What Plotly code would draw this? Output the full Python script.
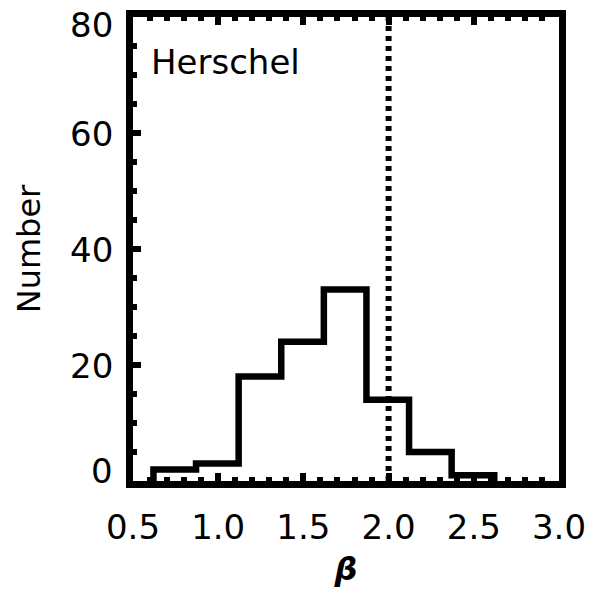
import plotly.graph_objects as go

# Data
bin_edges = [0.62, 0.87, 1.12, 1.37, 1.62, 1.87, 2.12, 2.37, 2.62]
counts = [2, 3, 18, 24, 33, 14, 5, 1]
x_ticks = [0.5, 1.0, 1.5, 2.0, 2.5, 3.0]
y_ticks = [0, 20, 40, 60, 80]
ref_beta = 2.0
label = "Herschel"

FONT = "DejaVu Sans"

# step outline built from the histogram data
xs = [bin_edges[0]] + bin_edges + [bin_edges[-1]]
ys = [0] + counts + [counts[-1], 0]

fig = go.Figure()
fig.add_trace(go.Scatter(
    x=xs, y=ys, mode="lines", line=dict(shape="hv", color="black", width=6.5),
    hoverinfo="skip", showlegend=False))

fig.add_shape(type="line", x0=ref_beta, x1=ref_beta, y0=0, y1=80,
              xref="x", yref="y",
              line=dict(color="black", width=6, dash="5px,5px"))

fig.add_annotation(x=0.595, y=72.2, xref="x", yref="y", text=label,
                   showarrow=False, xanchor="left", yanchor="middle",
                   font=dict(family=FONT, size=34, color="black"))

# y tick labels drawn as annotations (IDL-style: end labels kept inside)
ymin, ymax = min(y_ticks), max(y_ticks)
for v in y_ticks:
    shift = -8 if v == ymax else (10 if v == ymin else -1)
    fig.add_annotation(x=0, y=v, xref="paper", yref="y", text=str(v),
                       showarrow=False, xanchor="right", yanchor="middle",
                       xshift=-18, yshift=shift,
                       font=dict(family=FONT, size=34, color="black"))

axis_common = dict(
    showgrid=False, zeroline=False, showline=True, linecolor="black",
    linewidth=7, ticks="inside", tickcolor="black", tickwidth=6, ticklen=8,
    tickfont=dict(family=FONT, size=34, color="black"),
)

fig.update_xaxes(
    range=[0.5, 3.0], tickvals=x_ticks, ticktext=[f"{v:.1f}" for v in x_ticks],
    mirror="ticks", ticklabelstandoff=10, ticklabeloverflow="allow",
    minor=dict(dtick=0.1, ticklen=4, tickwidth=6, tickcolor="black", ticks="inside"),
    title=dict(text="<b><i>β</i></b>", font=dict(family=FONT, size=32, color="black"), standoff=14),
    **axis_common)
fig.update_yaxes(
    range=[0, 80], tickvals=y_ticks, showticklabels=False,
    mirror=True,
    minor=dict(dtick=5, ticklen=4, tickwidth=6, tickcolor="black", ticks="inside"),
    title=dict(text="Number", font=dict(family=FONT, size=32, color="black"), standoff=78),
    **axis_common)

fig.update_layout(
    width=595, height=597,
    margin=dict(l=133, r=36, t=17, b=116, autoexpand=False),
    plot_bgcolor="white", paper_bgcolor="white",
    showlegend=False,
)

fig.write_html("out.html")
